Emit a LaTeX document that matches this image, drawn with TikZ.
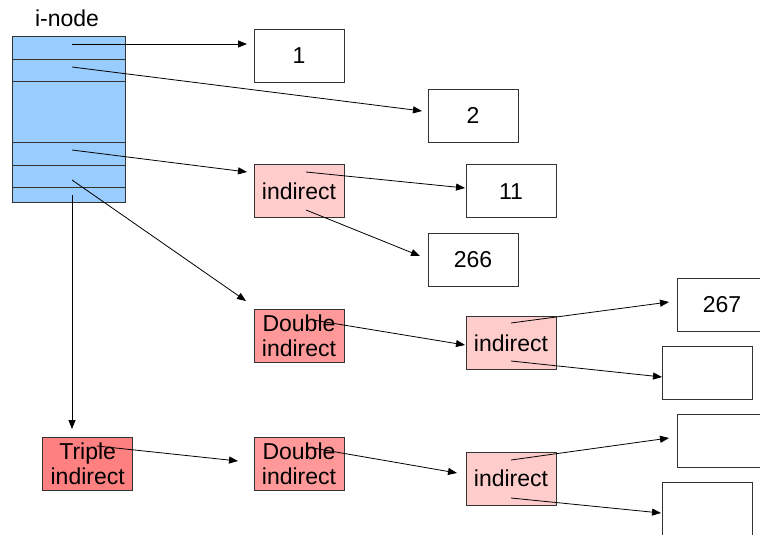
\documentclass[tikz,border=0pt]{standalone}
\usepackage{fontspec}
\setmainfont{Liberation Sans}
\usetikzlibrary{arrows.meta}
\definecolor{inodeblue}{HTML}{99CCFF}
\definecolor{indpink}{HTML}{FFCCCC}
\definecolor{dblpink}{HTML}{FF9999}
\definecolor{trplred}{HTML}{FF8080}
\definecolor{edge}{HTML}{333333}
\begin{document}
\begin{tikzpicture}[x=1pt,y=-1pt,
  box/.style={draw=edge, line width=0.8pt, minimum width=90pt, minimum height=53pt,
    inner sep=0pt, font=\fontsize{23}{25}\selectfont, align=center},
  arr/.style={draw=black, line width=0.8pt, -{Triangle[length=9pt,width=7pt]}},
  sep/.style={draw=edge, line width=0.8pt}]
\clip (0,0) rectangle (760,535);
\fill[white] (0,0) rectangle (760,535);

% i-node
\node[font=\fontsize{23}{25}\selectfont, anchor=base, inner sep=0pt] (lbl) at (67,26.5) {i-node};
\node[draw=edge, line width=0.8pt, fill=inodeblue, minimum width=113pt, minimum height=166pt, inner sep=0pt] (inode) at (69,119.4) {};
\foreach \yy in {59.3,81.3,142.3,165,187.7}
  \draw[sep] (inode.west |- 0,\yy) -- (inode.east |- 0,\yy);

% boxes
\node[box] (b1) at (299,55.5) {1};
\node[box] (b2) at (473,115.8) {2};
\node[box, fill=indpink] (ind1) at (299,191.3) {indirect};
\node[box] (b11) at (511,191.3) {11};
\node[box] (b266) at (473,259.7) {266};
\node[box, fill=dblpink] (dbl1) at (299,335.5) {Double\\indirect};
\node[box, fill=indpink] (ind2) at (511,342.8) {indirect};
\node[box] (b267) at (722,304.5) {267};
\node[box] (e1) at (707,372.8) {};
\node[box] (e2) at (722,440.6) {};
\node[box, minimum height=62pt] (e3) at (707,513.3) {};
\node[box, fill=trplred] (trp) at (87.7,463.5) {Triple\\indirect};
\node[box, fill=dblpink] (dbl2) at (299,463.5) {Double\\indirect};
\node[box, fill=indpink] (ind3) at (511,478.6) {indirect};

% connector ends
\coordinate (s1) at (72,44);   \coordinate (t1) at (247,44);
\coordinate (s2) at (72,67);   \coordinate (t2) at (422,111);
\coordinate (s3) at (72,150);  \coordinate (t3) at (247,172);
\coordinate (s4) at (72,180);  \coordinate (t4) at (246,301);
\coordinate (s5) at (72,195);  \coordinate (t5) at (72,429);
\coordinate (s6) at (306,172); \coordinate (t6) at (465,188);
\coordinate (s7) at (306,210); \coordinate (t7) at (420,256);
\coordinate (s8) at (313,320); \coordinate (t8) at (465,345);
\coordinate (s9) at (511,323); \coordinate (t9) at (669,302);
\coordinate (s10) at (511,361); \coordinate (t10) at (662,377);
\coordinate (s11) at (97,446); \coordinate (t11) at (238,461);
\coordinate (s12) at (307,447); \coordinate (t12) at (457,473);
\coordinate (s13) at (511,460); \coordinate (t13) at (669,438);
\coordinate (s14) at (511,498); \coordinate (t14) at (661,513);

\foreach \i in {1,...,14}
  \draw[arr] (s\i) -- (t\i);
\end{tikzpicture}
\end{document}
